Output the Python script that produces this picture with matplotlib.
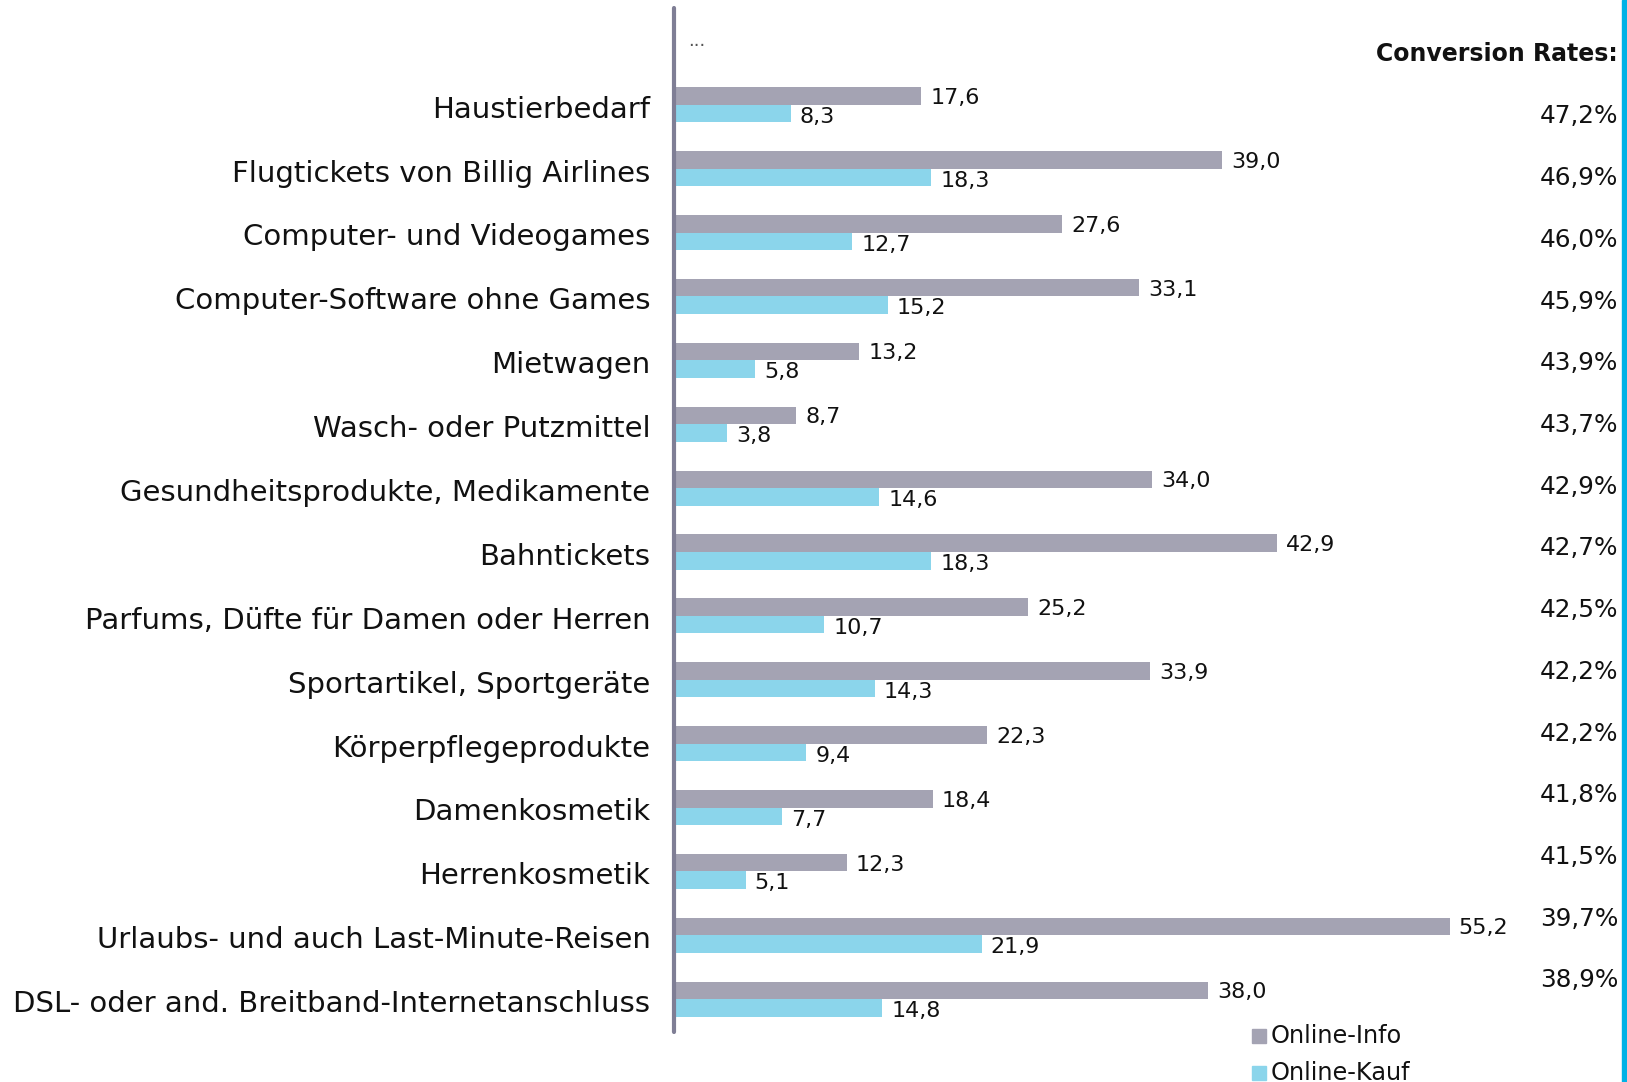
import matplotlib
matplotlib.use("Agg")
import matplotlib.pyplot as plt
from matplotlib.patches import Rectangle

categories = ["Haustierbedarf", "Flugtickets von Billig Airlines", "Computer- und Videogames",
              "Computer-Software ohne Games", "Mietwagen", "Wasch- oder Putzmittel",
              "Gesundheitsprodukte, Medikamente", "Bahntickets", "Parfums, Düfte für Damen oder Herren",
              "Sportartikel, Sportgeräte", "Körperpflegeprodukte", "Damenkosmetik", "Herrenkosmetik",
              "Urlaubs- und auch Last-Minute-Reisen", "DSL- oder and. Breitband-Internetanschluss"]
online_info = [17.6, 39.0, 27.6, 33.1, 13.2, 8.7, 34.0, 42.9, 25.2, 33.9, 22.3, 18.4, 12.3, 55.2, 38.0]
online_kauf = [8.3, 18.3, 12.7, 15.2, 5.8, 3.8, 14.6, 18.3, 10.7, 14.3, 9.4, 7.7, 5.1, 21.9, 14.8]
conv_rates = ["47,2%", "46,9%", "46,0%", "45,9%", "43,9%", "43,7%", "42,9%", "42,7%", "42,5%",
              "42,2%", "42,2%", "41,8%", "41,5%", "39,7%", "38,9%"]
series_names = ["Online-Info", "Online-Kauf"]

GREY = "#a4a3b3"
CYAN = "#8bd5eb"
FONT = "DejaVu Sans"
TXT = "#111111"

W, H = 1627, 1082
fig = plt.figure(figsize=(W / 100, H / 100), dpi=100)
ax_left, ax_right = 674 / W, 1620 / W
ax_bot, ax_top = (H - 1032) / H, (H - 8) / H
ax = fig.add_axes([ax_left, ax_bot, ax_right - ax_left, ax_top - ax_bot])

px_per_unit = 14.05
ax.set_xlim(0, (1620 - 674) / px_per_unit)
ax.set_ylim(14.513, -1.515)

bh = 0.275
ys = list(range(len(categories)))
ax.barh([y - bh / 2 for y in ys], online_info, height=bh, color=GREY, label=series_names[0])
ax.barh([y + bh / 2 for y in ys], online_kauf, height=bh, color=CYAN, label=series_names[1])

for y, v in zip(ys, online_info):
    ax.text(v + 0.65, y - bh / 2 + 0.03, f"{v:.1f}".replace(".", ","), va="center", ha="left",
            fontsize=16, family=FONT, color=TXT)
for y, v in zip(ys, online_kauf):
    ax.text(v + 0.65, y + bh / 2 + 0.05, f"{v:.1f}".replace(".", ","), va="center", ha="left",
            fontsize=16, family=FONT, color=TXT)

for s in ["top", "right", "bottom"]:
    ax.spines[s].set_visible(False)
ax.spines["left"].set_color("#7f7e95")
ax.spines["left"].set_linewidth(3)
ax.spines["left"].set_capstyle("round")
ax.set_xticks([])
ax.set_yticks([y + 0.03 for y in ys])
ax.set_yticklabels(categories, fontsize=21, family=FONT, color=TXT)
ax.tick_params(axis="y", length=0, pad=17)

ax.text(0.015, 0.968, "...", transform=ax.transAxes, fontsize=13, family=FONT, color="#555555",
        ha="left", va="center")

# Conversion rates column (figure coordinates)
x_rates = 1618 / W
fig.text(x_rates, 1 - 54 / H, "Conversion Rates:", ha="right", va="center", fontsize=17,
         fontweight="bold", family=FONT, color=TXT)
y0, step = 116.5, 61.7
for i, r in enumerate(conv_rates):
    fig.text(x_rates, 1 - (y0 + i * step) / H, r, ha="right", va="center", fontsize=17.8,
             family=FONT, color=TXT)

# legend
for i, (name, col) in enumerate(zip(series_names, [GREY, CYAN])):
    yc = 1036 + i * 37
    fig.patches.append(Rectangle((1252 / W, 1 - (yc + 7) / H), 14 / W, 14 / H, color=col,
                                 transform=fig.transFigure))
    fig.text(1271 / W, 1 - yc / H, name, ha="left", va="center", fontsize=17.3, family=FONT,
             color=TXT)

# right edge blue stripe
fig.patches.append(Rectangle((1622 / W, 0), 5 / W, 1, color="#00b2e6", transform=fig.transFigure))

fig.savefig("out.png", dpi=100)
